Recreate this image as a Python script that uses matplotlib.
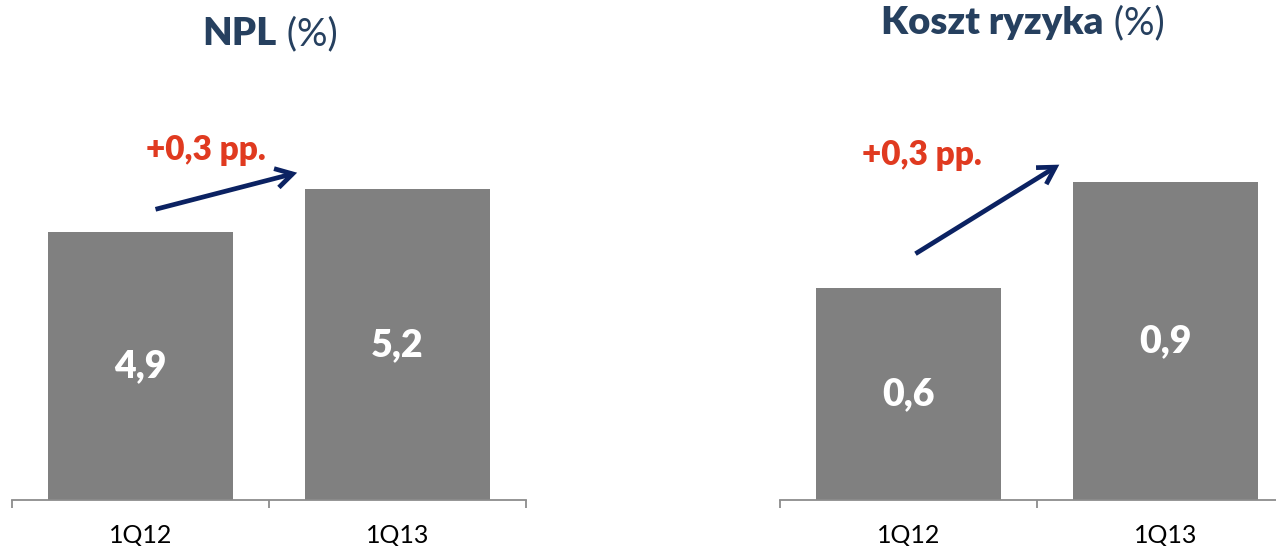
import matplotlib
matplotlib.use("Agg")
import matplotlib.pyplot as plt
from matplotlib.patches import FancyArrowPatch

# Data
categories = ["1Q12", "1Q13"]
npl_values = [4.9, 5.2]
cor_values = [0.6, 0.9]
npl_labels = ["4,9", "5,2"]
cor_labels = ["0,6", "0,9"]
change_label = "+0,3 pp."

FONT = "Lato"
BAR = "#808080"
AXIS = "#8C8C8C"
NAVY_TITLE = "#26405F"
RED = "#E03A20"
ARROW = "#0B2262"

W, H = 1276, 546
fig = plt.figure(figsize=(W / 100, H / 100), dpi=100)


def px_axes(x0, x1, y_top, y_bottom):
    return fig.add_axes([x0 / W, (H - y_bottom) / H, (x1 - x0) / W, (y_bottom - y_top) / H])


def style_axis(ax):
    for side in ("top", "left", "right"):
        ax.spines[side].set_visible(False)
    ax.spines["bottom"].set_color(AXIS)
    ax.spines["bottom"].set_linewidth(1.3)
    ax.set_yticks([])
    ax.set_xlim(-0.5, len(categories) - 0.5)
    # category boundaries carry the tick marks, labels sit centred below
    ax.set_xticks([i - 0.5 for i in range(len(categories) + 1)])
    ax.set_xticklabels([])
    ax.tick_params(axis="x", direction="out", length=6, width=1.3, color=AXIS)
    ax.set_xticks(range(len(categories)), minor=True)
    ax.set_xticklabels(categories, minor=True, fontsize=18, family=FONT, color="black")
    ax.tick_params(axis="x", which="minor", length=0, pad=17)


def draw_bars(ax, values, labels, ymin):
    bars = ax.bar(range(len(values)), [v - ymin for v in values], bottom=ymin,
                  width=0.72, color=BAR, edgecolor="none")
    for b, v, lab in zip(bars, values, labels):
        ax.text(b.get_x() + b.get_width() / 2, (ymin + v) / 2, lab,
                ha="center", va="center", color="white", fontsize=27,
                fontweight="heavy", family=FONT)


def mixed_title(xc, y_base, bold, regular, size=27.5):
    r = fig.canvas.get_renderer()
    t1 = fig.text(0, y_base, bold, fontsize=size, fontweight="heavy", family=FONT,
                  color=NAVY_TITLE, va="baseline", ha="left")
    t2 = fig.text(0, y_base, " " + regular, fontsize=size, family=FONT,
                  color=NAVY_TITLE, va="baseline", ha="left")
    w1 = t1.get_window_extent(r).width / W
    w2 = t2.get_window_extent(r).width / W
    x0 = xc - (w1 + w2) / 2
    t1.set_x(x0)
    t2.set_x(x0 + w1)


# Left panel: NPL
ax1 = px_axes(12, 526, 100, 500)
npl_min = 3.0
ax1.set_ylim(npl_min, npl_min + 400 / 141.2)
draw_bars(ax1, npl_values, npl_labels, npl_min)
style_axis(ax1)

# Right panel: cost of risk
ax2 = px_axes(780, 1294, 100, 500)
ax2.set_ylim(0, 400 / 353.0)
draw_bars(ax2, cor_values, cor_labels, 0.0)
style_axis(ax2)

# Change annotations
for ax, tail, head, txt in [
    (ax1, (0.274, 0.725), (0.560, 0.82), (0.377, 0.85)),
    (ax2, (0.259, 0.612), (0.548, 0.842), (0.276, 0.8375)),
]:
    ax.add_patch(FancyArrowPatch(tail, head, transform=ax.transAxes,
                                 arrowstyle="->,head_length=12,head_width=7",
                                 color=ARROW, linewidth=3.4, mutation_scale=1,
                                 clip_on=False, capstyle="butt", joinstyle="miter"))
    ax.text(*txt, change_label, transform=ax.transAxes, ha="center", va="baseline",
            color=RED, fontsize=24, fontweight="heavy", family=FONT, clip_on=False)

mixed_title(270 / W, (H - 45) / H, "NPL", "(%)")
mixed_title(1023 / W, (H - 34) / H, "Koszt ryzyka", "(%)")

fig.savefig("out.png", dpi=100)
